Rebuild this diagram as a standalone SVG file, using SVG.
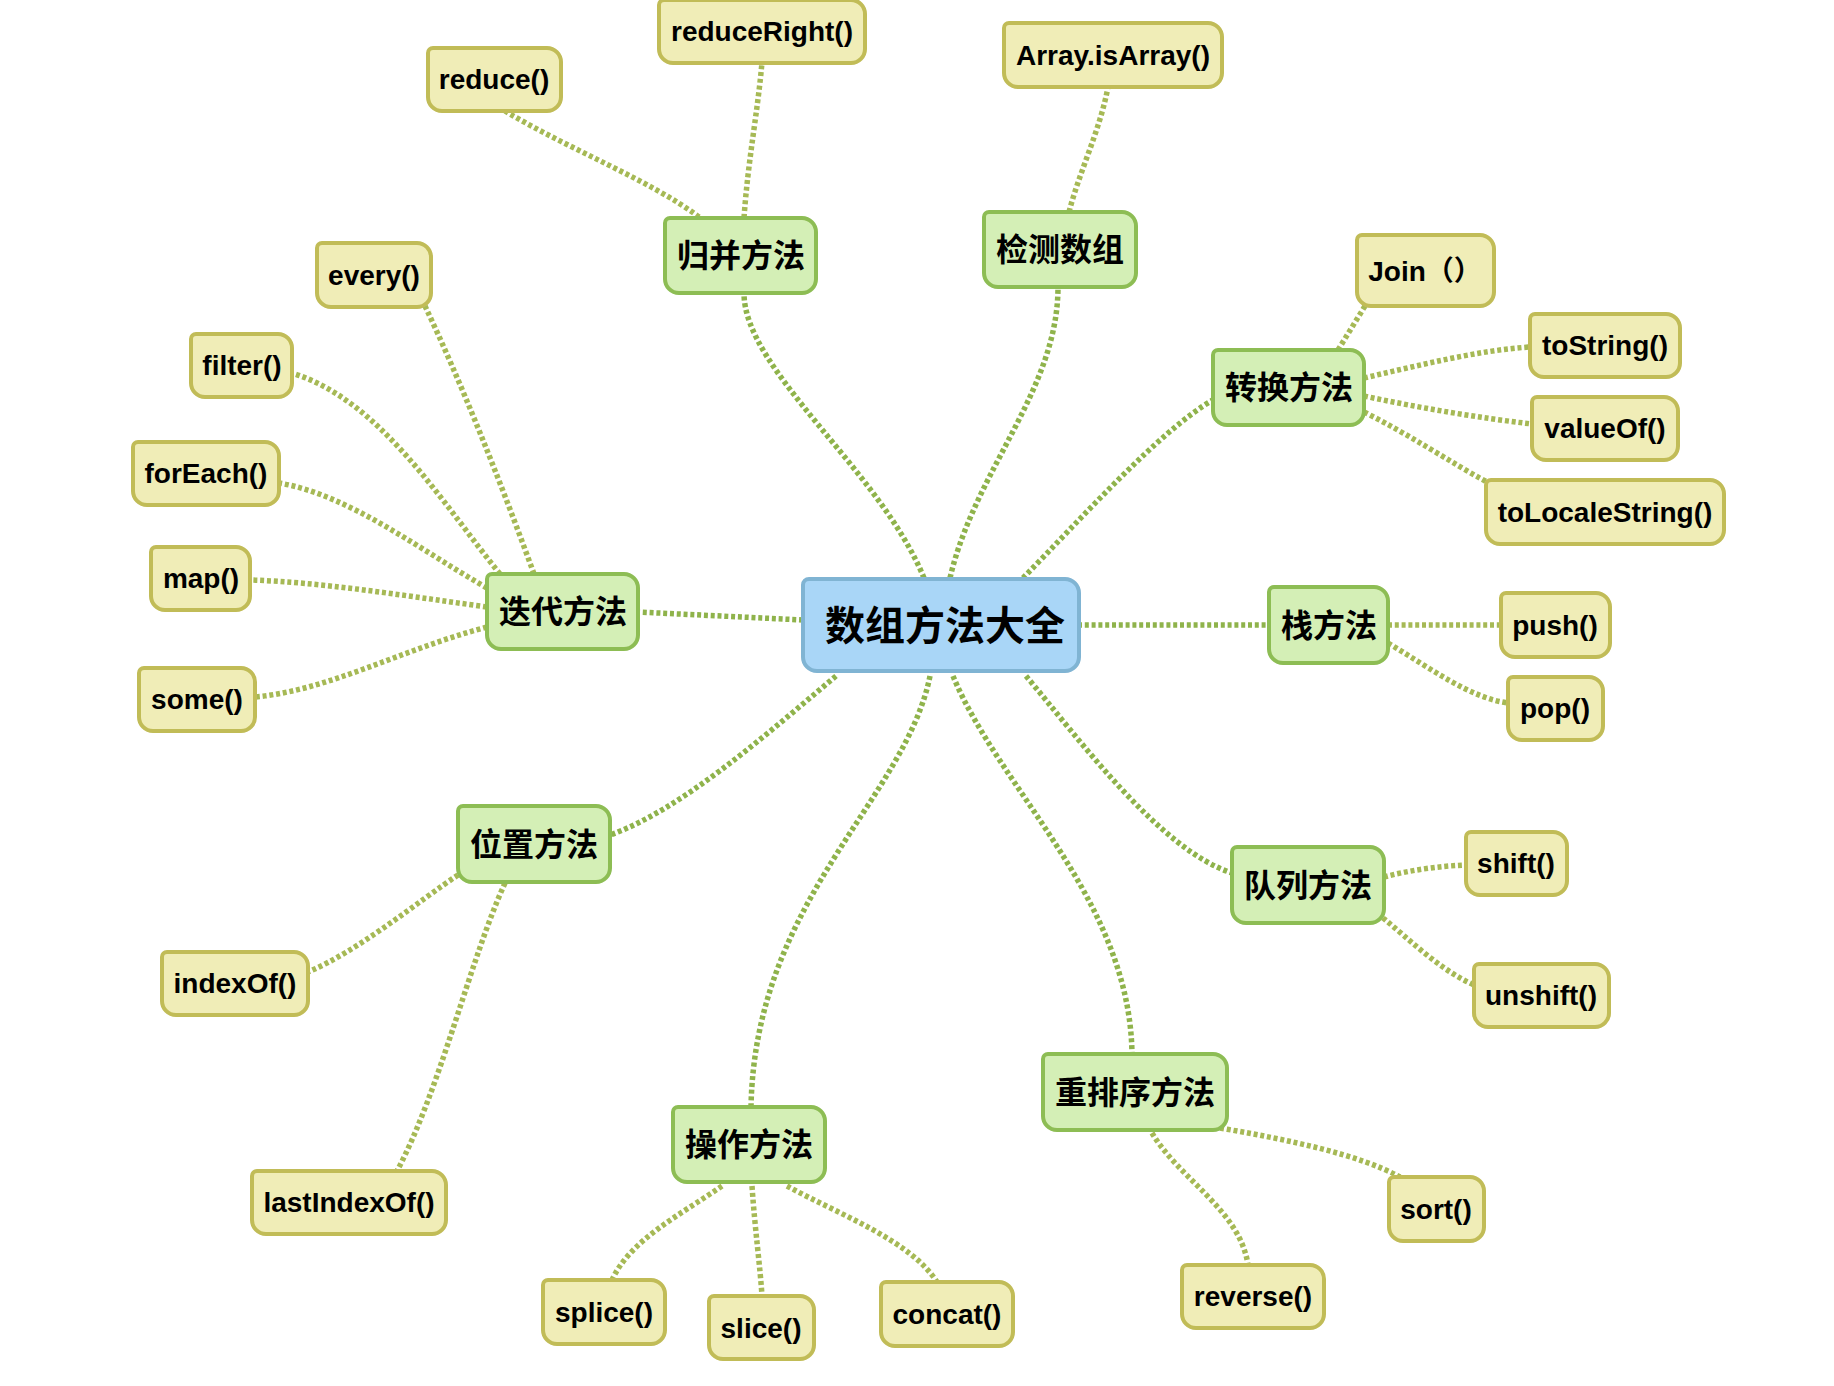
<svg xmlns="http://www.w3.org/2000/svg" width="1834" height="1386" viewBox="0 0 1834 1386">
<style>
.bg{fill:#ffffff}
.conn path{fill:none;stroke:#a6b955;stroke-width:5.5;stroke-dasharray:4 2.8}
.conn path.k1{stroke:#8fb34b}
.root{fill:#a9d6f7;stroke:#80b4d3;stroke-width:4}
.l1{fill:#d4efb6;stroke:#8dbd54;stroke-width:4}
.l2{fill:#f0edb7;stroke:#c1bc57;stroke-width:4}
.t2{font-family:"Liberation Sans","Noto Sans CJK SC",Arial,sans-serif;font-weight:bold;font-size:28px;fill:#000;text-anchor:middle}
.t1{font-family:"Noto Sans CJK SC","Noto Sans CJK JP",sans-serif;font-weight:bold;font-size:32px;fill:#000;text-anchor:middle}
.t0{font-family:"Noto Sans CJK SC","Noto Sans CJK JP",sans-serif;font-weight:bold;font-size:40px;fill:#000;text-anchor:middle}
</style>
<rect class="bg" x="0" y="0" width="1834" height="1386"/>
<g id="connectors" class="conn">
<path class="k1" d="M924,578 C880,470 744,370 744,293"/>
<path class="k1" d="M950,578 C975,470 1058,390 1058,287"/>
<path class="k1" d="M1023,578 C1080,520 1160,430 1213,400"/>
<path class="k1" d="M1078,625 L1269,625"/>
<path class="k1" d="M1026,676 C1080,740 1160,850 1232,873"/>
<path class="k1" d="M953,676 C1000,790 1130,900 1132,1054"/>
<path class="k1" d="M930,676 C905,800 755,900 751,1107"/>
<path class="k1" d="M836,676 C760,740 680,810 610,835"/>
<path class="k1" d="M803,620 L638,612"/>
<path d="M699,217 C650,180 570,150 505,111"/>
<path d="M744,218 C748,160 758,110 762,62"/>
<path d="M1069,212 C1080,170 1100,130 1108,87"/>
<path d="M1338,350 L1365,306"/>
<path d="M1364,378 C1420,365 1480,350 1530,347"/>
<path d="M1364,396 C1420,408 1480,418 1532,424"/>
<path d="M1364,412 C1410,435 1450,462 1487,482"/>
<path d="M1388,625 L1501,625"/>
<path d="M1388,643 C1430,668 1470,698 1508,703"/>
<path d="M1384,877 C1410,870 1440,866 1466,865"/>
<path d="M1383,918 C1410,940 1440,970 1474,985"/>
<path d="M1220,1128 C1290,1140 1360,1155 1400,1177"/>
<path d="M1152,1133 C1180,1180 1240,1210 1248,1265"/>
<path d="M722,1186 C680,1215 630,1240 612,1280"/>
<path d="M752,1186 C755,1230 760,1265 762,1296"/>
<path d="M787,1186 C840,1215 910,1240 937,1282"/>
<path d="M458,875 C420,900 360,950 308,972"/>
<path d="M505,883 C470,960 440,1090 397,1171"/>
<path d="M534,574 C500,480 460,380 425,306"/>
<path d="M500,574 C440,500 380,400 292,373"/>
<path d="M487,588 C420,550 350,495 279,483"/>
<path d="M487,607 C400,595 320,582 250,580"/>
<path d="M487,627 C400,650 330,690 255,697"/>
</g>
<g id="root"><path class="root" d="M809,579 h256 a14,14 0 0 1 14,14 v64 a14,14 0 0 1 -14,14 h-248 a14,14 0 0 1 -14,-14 v-72 a6,6 0 0 1 6,-6 z"/><text class="t0" x="945" y="640">数组方法大全</text></g>
<g id="n-guibing"><path class="l1" d="M670,218 h132 a14,14 0 0 1 14,14 v47 a14,14 0 0 1 -14,14 h-123 a14,14 0 0 1 -14,-14 v-56 a5,5 0 0 1 5,-5 z"/><text class="t1" x="741" y="267">归并方法</text></g>
<g id="n-jiance"><path class="l1" d="M989,212 h133 a14,14 0 0 1 14,14 v47 a14,14 0 0 1 -14,14 h-124 a14,14 0 0 1 -14,-14 v-56 a5,5 0 0 1 5,-5 z"/><text class="t1" x="1060" y="261">检测数组</text></g>
<g id="n-zhuanhuan"><path class="l1" d="M1218,350 h132 a14,14 0 0 1 14,14 v47 a14,14 0 0 1 -14,14 h-123 a14,14 0 0 1 -14,-14 v-56 a5,5 0 0 1 5,-5 z"/><text class="t1" x="1289" y="399">转换方法</text></g>
<g id="n-zhan"><path class="l1" d="M1274,587 h100 a14,14 0 0 1 14,14 v48 a14,14 0 0 1 -14,14 h-91 a14,14 0 0 1 -14,-14 v-57 a5,5 0 0 1 5,-5 z"/><text class="t1" x="1329" y="637">栈方法</text></g>
<g id="n-duilie"><path class="l1" d="M1237,847 h133 a14,14 0 0 1 14,14 v48 a14,14 0 0 1 -14,14 h-124 a14,14 0 0 1 -14,-14 v-57 a5,5 0 0 1 5,-5 z"/><text class="t1" x="1308" y="897">队列方法</text></g>
<g id="n-chongpaixu"><path class="l1" d="M1048,1054 h165 a14,14 0 0 1 14,14 v48 a14,14 0 0 1 -14,14 h-156 a14,14 0 0 1 -14,-14 v-57 a5,5 0 0 1 5,-5 z"/><text class="t1" x="1135" y="1104">重排序方法</text></g>
<g id="n-caozuo"><path class="l1" d="M678,1107 h133 a14,14 0 0 1 14,14 v47 a14,14 0 0 1 -14,14 h-124 a14,14 0 0 1 -14,-14 v-56 a5,5 0 0 1 5,-5 z"/><text class="t1" x="749" y="1156">操作方法</text></g>
<g id="n-weizhi"><path class="l1" d="M463,806 h133 a14,14 0 0 1 14,14 v48 a14,14 0 0 1 -14,14 h-124 a14,14 0 0 1 -14,-14 v-57 a5,5 0 0 1 5,-5 z"/><text class="t1" x="534" y="856">位置方法</text></g>
<g id="n-diedai"><path class="l1" d="M492,574 h132 a14,14 0 0 1 14,14 v47 a14,14 0 0 1 -14,14 h-123 a14,14 0 0 1 -14,-14 v-56 a5,5 0 0 1 5,-5 z"/><text class="t1" x="563" y="623">迭代方法</text></g>
<g id="n-reduce"><path class="l2" d="M433,48 h114 a14,14 0 0 1 14,14 v35 a14,14 0 0 1 -14,14 h-105 a14,14 0 0 1 -14,-14 v-44 a5,5 0 0 1 5,-5 z"/><text class="t2" x="494" y="89">reduce()</text></g>
<g id="n-reduceRight"><path class="l2" d="M664,0 h187 a14,14 0 0 1 14,14 v35 a14,14 0 0 1 -14,14 h-178 a14,14 0 0 1 -14,-14 v-44 a5,5 0 0 1 5,-5 z"/><text class="t2" x="762" y="41">reduceRight()</text></g>
<g id="n-isArray"><path class="l2" d="M1009,23 h199 a14,14 0 0 1 14,14 v36 a14,14 0 0 1 -14,14 h-190 a14,14 0 0 1 -14,-14 v-45 a5,5 0 0 1 5,-5 z"/><text class="t2" x="1113" y="65">Array.isArray()</text></g>
<g id="n-join"><path class="l2" d="M1362,235 h118 a14,14 0 0 1 14,14 v43 a14,14 0 0 1 -14,14 h-109 a14,14 0 0 1 -14,-14 v-52 a5,5 0 0 1 5,-5 z"/><text class="t2" x="1425" y="281">Join（）</text></g>
<g id="n-toString"><path class="l2" d="M1535,314 h131 a14,14 0 0 1 14,14 v35 a14,14 0 0 1 -14,14 h-122 a14,14 0 0 1 -14,-14 v-44 a5,5 0 0 1 5,-5 z"/><text class="t2" x="1605" y="355">toString()</text></g>
<g id="n-valueOf"><path class="l2" d="M1537,397 h127 a14,14 0 0 1 14,14 v35 a14,14 0 0 1 -14,14 h-118 a14,14 0 0 1 -14,-14 v-44 a5,5 0 0 1 5,-5 z"/><text class="t2" x="1605" y="438">valueOf()</text></g>
<g id="n-toLocaleString"><path class="l2" d="M1491,480 h219 a14,14 0 0 1 14,14 v36 a14,14 0 0 1 -14,14 h-210 a14,14 0 0 1 -14,-14 v-45 a5,5 0 0 1 5,-5 z"/><text class="t2" x="1605" y="522">toLocaleString()</text></g>
<g id="n-push"><path class="l2" d="M1506,593 h90 a14,14 0 0 1 14,14 v36 a14,14 0 0 1 -14,14 h-81 a14,14 0 0 1 -14,-14 v-45 a5,5 0 0 1 5,-5 z"/><text class="t2" x="1555" y="635">push()</text></g>
<g id="n-pop"><path class="l2" d="M1513,677 h76 a14,14 0 0 1 14,14 v35 a14,14 0 0 1 -14,14 h-67 a14,14 0 0 1 -14,-14 v-44 a5,5 0 0 1 5,-5 z"/><text class="t2" x="1555" y="718">pop()</text></g>
<g id="n-shift"><path class="l2" d="M1471,832 h82 a14,14 0 0 1 14,14 v35 a14,14 0 0 1 -14,14 h-73 a14,14 0 0 1 -14,-14 v-44 a5,5 0 0 1 5,-5 z"/><text class="t2" x="1516" y="873">shift()</text></g>
<g id="n-unshift"><path class="l2" d="M1479,964 h116 a14,14 0 0 1 14,14 v35 a14,14 0 0 1 -14,14 h-107 a14,14 0 0 1 -14,-14 v-44 a5,5 0 0 1 5,-5 z"/><text class="t2" x="1541" y="1005">unshift()</text></g>
<g id="n-sort"><path class="l2" d="M1394,1177 h76 a14,14 0 0 1 14,14 v36 a14,14 0 0 1 -14,14 h-67 a14,14 0 0 1 -14,-14 v-45 a5,5 0 0 1 5,-5 z"/><text class="t2" x="1436" y="1219">sort()</text></g>
<g id="n-reverse"><path class="l2" d="M1187,1265 h123 a14,14 0 0 1 14,14 v35 a14,14 0 0 1 -14,14 h-114 a14,14 0 0 1 -14,-14 v-44 a5,5 0 0 1 5,-5 z"/><text class="t2" x="1253" y="1306">reverse()</text></g>
<g id="n-concat"><path class="l2" d="M886,1282 h113 a14,14 0 0 1 14,14 v36 a14,14 0 0 1 -14,14 h-104 a14,14 0 0 1 -14,-14 v-45 a5,5 0 0 1 5,-5 z"/><text class="t2" x="947" y="1324">concat()</text></g>
<g id="n-slice"><path class="l2" d="M714,1296 h86 a14,14 0 0 1 14,14 v35 a14,14 0 0 1 -14,14 h-77 a14,14 0 0 1 -14,-14 v-44 a5,5 0 0 1 5,-5 z"/><text class="t2" x="761" y="1338">slice()</text></g>
<g id="n-splice"><path class="l2" d="M548,1280 h103 a14,14 0 0 1 14,14 v36 a14,14 0 0 1 -14,14 h-94 a14,14 0 0 1 -14,-14 v-45 a5,5 0 0 1 5,-5 z"/><text class="t2" x="604" y="1322">splice()</text></g>
<g id="n-lastIndexOf"><path class="l2" d="M257,1171 h175 a14,14 0 0 1 14,14 v35 a14,14 0 0 1 -14,14 h-166 a14,14 0 0 1 -14,-14 v-44 a5,5 0 0 1 5,-5 z"/><text class="t2" x="349" y="1212">lastIndexOf()</text></g>
<g id="n-indexOf"><path class="l2" d="M167,952 h127 a14,14 0 0 1 14,14 v35 a14,14 0 0 1 -14,14 h-118 a14,14 0 0 1 -14,-14 v-44 a5,5 0 0 1 5,-5 z"/><text class="t2" x="235" y="993">indexOf()</text></g>
<g id="n-some"><path class="l2" d="M144,668 h97 a14,14 0 0 1 14,14 v35 a14,14 0 0 1 -14,14 h-88 a14,14 0 0 1 -14,-14 v-44 a5,5 0 0 1 5,-5 z"/><text class="t2" x="197" y="709">some()</text></g>
<g id="n-map"><path class="l2" d="M156,547 h80 a14,14 0 0 1 14,14 v35 a14,14 0 0 1 -14,14 h-71 a14,14 0 0 1 -14,-14 v-44 a5,5 0 0 1 5,-5 z"/><text class="t2" x="201" y="588">map()</text></g>
<g id="n-forEach"><path class="l2" d="M138,442 h127 a14,14 0 0 1 14,14 v35 a14,14 0 0 1 -14,14 h-118 a14,14 0 0 1 -14,-14 v-44 a5,5 0 0 1 5,-5 z"/><text class="t2" x="206" y="483">forEach()</text></g>
<g id="n-filter"><path class="l2" d="M196,334 h82 a14,14 0 0 1 14,14 v35 a14,14 0 0 1 -14,14 h-73 a14,14 0 0 1 -14,-14 v-44 a5,5 0 0 1 5,-5 z"/><text class="t2" x="242" y="375">filter()</text></g>
<g id="n-every"><path class="l2" d="M322,243 h95 a14,14 0 0 1 14,14 v36 a14,14 0 0 1 -14,14 h-86 a14,14 0 0 1 -14,-14 v-45 a5,5 0 0 1 5,-5 z"/><text class="t2" x="374" y="285">every()</text></g>
</svg>
